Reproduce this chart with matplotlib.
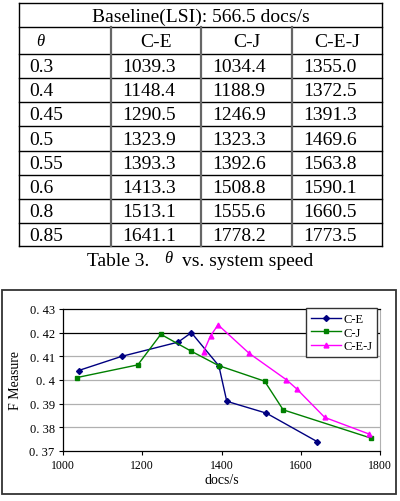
import matplotlib.pyplot as plt
from matplotlib.patches import Rectangle

# table data
thetas = ["0.3", "0.4", "0.45", "0.5", "0.55", "0.6", "0.8", "0.85"]
speed_ce = [1039.3, 1148.4, 1290.5, 1323.9, 1393.3, 1413.3, 1513.1, 1641.1]
speed_cj = [1034.4, 1188.9, 1246.9, 1323.3, 1392.6, 1508.8, 1555.6, 1778.2]
speed_cej = [1355.0, 1372.5, 1391.3, 1469.6, 1563.8, 1590.1, 1660.5, 1773.5]
col_names = ["C-E", "C-J", "C-E-J"]

# F measure
f_ce = [0.404, 0.410, 0.416, 0.420, 0.406, 0.391, 0.386, 0.374]
f_cj = [0.401, 0.4064, 0.4193, 0.4122, 0.4061, 0.3995, 0.3874, 0.3754]
f_cej = [0.412, 0.4187, 0.4233, 0.4113, 0.4001, 0.3962, 0.3842, 0.3771]

yticks = [0.37, 0.38, 0.39, 0.40, 0.41, 0.42, 0.43]
xticks = [1000, 1200, 1400, 1600, 1800]

SERIF = "Liberation Serif"

def main():
	fig = plt.figure(figsize=(4.0, 5.02), dpi=100)

	# overlay axes in pixel coords for table and frame
	bg = fig.add_axes([0, 0, 1, 1])
	bg.set_xlim(0, 400)
	bg.set_ylim(502, 0)
	bg.axis("off")

	left, right = 19, 382
	cols = [19, 111, 201, 292, 382]
	rows = [4, 28, 55, 79, 103, 127, 152, 176, 200, 224, 247]
	fs = 14

	for y in rows:
		bg.plot([left, right], [y, y], color="black", lw=1.0)
	bg.plot([left, left], [rows[0], rows[-1]], color="black", lw=1.0)
	bg.plot([right, right], [rows[0], rows[-1]], color="black", lw=1.0)
	for x in cols[1:-1]:
		bg.plot([x, x], [rows[1], rows[-1]], color="#666666", lw=1.6)

	bg.text((left+right)/2, (rows[0]+rows[1])/2+1, "Baseline(LSI): 566.5 docs/s",
		ha="center", va="center", family=SERIF, fontsize=fs)
	bg.text(36, (rows[1]+rows[2])/2+1, "θ", ha="left", va="center",
		family=SERIF, style="italic", fontsize=fs-2)
	for j, name in enumerate(col_names):
		bg.text((cols[j+1]+cols[j+2])/2, (rows[1]+rows[2])/2+1, name,
			ha="center", va="center", family=SERIF, fontsize=fs)

	for i in range(len(thetas)):
		yc = (rows[i+2]+rows[i+3])/2+1
		bg.text(cols[0]+10, yc, thetas[i], ha="left", va="center", family=SERIF, fontsize=fs)
		for j, vals in enumerate([speed_ce, speed_cj, speed_cej]):
			bg.text(cols[j+1]+11, yc, "%.1f" % vals[i], ha="left", va="center",
				family=SERIF, fontsize=fs)

	bg.text(87, 262, "Table 3.", ha="left", va="center", family=SERIF, fontsize=fs)
	bg.text(168, 259, "θ", ha="center", va="center", family=SERIF, style="italic", fontsize=fs-2)
	bg.text(182, 262, "vs. system speed", ha="left", va="center", family=SERIF, fontsize=fs)

	bg.add_patch(Rectangle((1.5, 291), 394.5, 204, fill=False, edgecolor="#333333", lw=1.3))

	# chart
	ax = fig.add_axes([63/400, (502-452)/502, (380-63)/400, (452-310)/502])
	ax.plot(speed_ce, f_ce, color="#000080", marker="D", markersize=3, lw=1.0, label="C-E")
	ax.plot(speed_cj, f_cj, color="#008000", marker="s", markersize=3, lw=1.0, label="C-J")
	ax.plot(speed_cej, f_cej, color="#ff00ff", marker="^", markersize=3.5, lw=1.0, label="C-E-J")

	ax.set_xlim(1000, 1800)
	ax.set_ylim(0.37, 0.43)
	ax.set_xticks(xticks)
	ax.set_yticks(yticks)
	ax.set_xticklabels([str(v) for v in xticks], family=SERIF, fontsize=8.5)
	ax.set_yticklabels(["0. %d" % round(v*100) if round(v*100) != 40 else "0. 4" for v in yticks],
		family=SERIF, fontsize=9)
	for v in yticks[1:-1]:
		ax.axhline(v, color="black" if abs(v-0.42) < 1e-9 else "#b0b0b0", lw=0.9, zorder=0)
	ax.tick_params(direction="out", length=3, width=0.8, pad=3)
	for s in ["left", "bottom", "top"]:
		ax.spines[s].set_color("black")
		ax.spines[s].set_linewidth(0.9)
	ax.spines["right"].set_color("#b0b0b0")
	ax.set_xlabel("docs/s", family=SERIF, fontsize=10, labelpad=1)
	ax.set_ylabel("F Measure", family=SERIF, fontsize=10, labelpad=5)

	leg = ax.legend(loc="upper right", bbox_to_anchor=(0.992, 1.005), prop={"family": SERIF, "size": 9},
		fancybox=False, framealpha=1, edgecolor="#333333", handlelength=2.4, handletextpad=0.2,
		labelspacing=0.12, borderpad=0.4, borderaxespad=0)
	leg.get_frame().set_linewidth(1.0)

	plt.savefig("out.png", dpi=100)
	plt.close(fig)

if __name__ == "__main__":
	main()
